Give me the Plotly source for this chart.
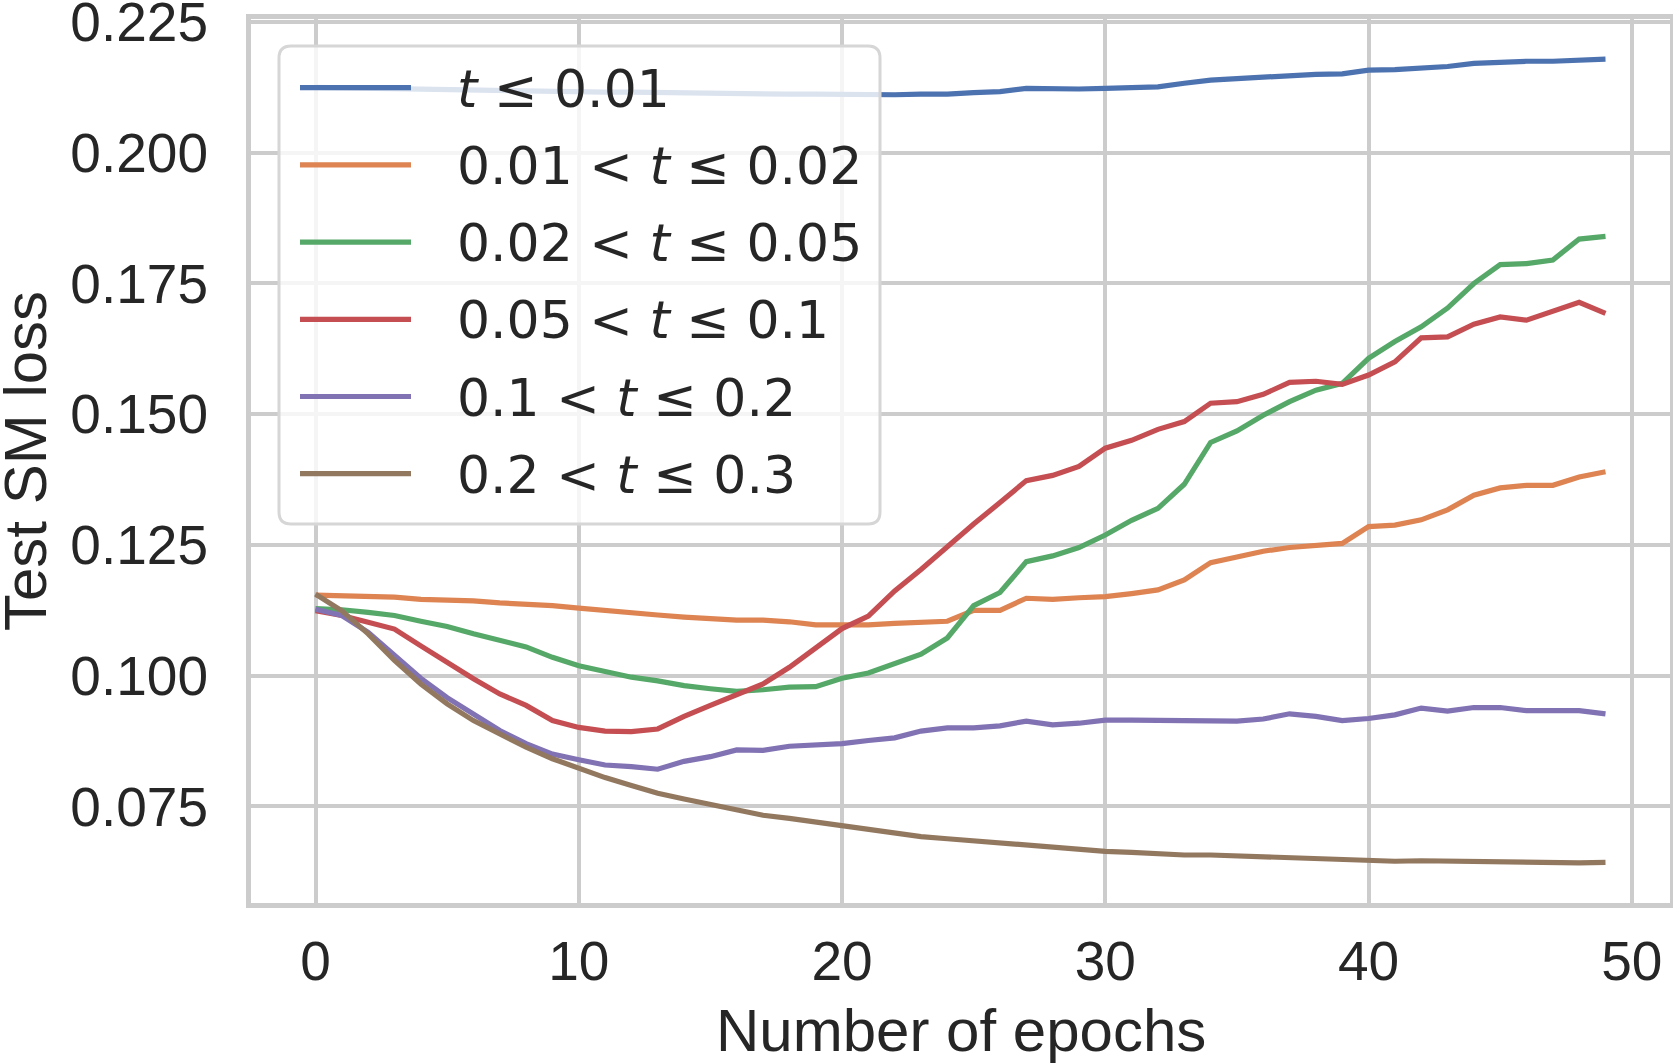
import plotly.graph_objects as go

epochs = list(range(50))

loss_t_001 = [0.2125, 0.2124, 0.2123, 0.2122, 0.2122, 0.2121, 0.2120, 0.2119, 0.2118, 0.2118,
              0.2117, 0.2116, 0.2116, 0.2115, 0.2114, 0.2114, 0.2113, 0.2113, 0.2112, 0.2112,
              0.2111, 0.2111, 0.2111, 0.2112, 0.2112, 0.2115, 0.2117, 0.2123, 0.2122, 0.2122,
              0.2123, 0.2124, 0.2126, 0.2133, 0.2139, 0.2142, 0.2145, 0.2148, 0.2150, 0.2151,
              0.2158, 0.2159, 0.2161, 0.2165, 0.2171, 0.2174, 0.2175, 0.2175, 0.2177, 0.2179]
loss_t_002 = [0.1154, 0.1153, 0.1152, 0.1150, 0.1146, 0.1145, 0.1143, 0.1139, 0.1137, 0.1134,
              0.1129, 0.1124, 0.1120, 0.1116, 0.1112, 0.1108, 0.1106, 0.1106, 0.1103, 0.1097,
              0.1097, 0.1097, 0.1100, 0.1102, 0.1104, 0.1125, 0.1125, 0.1148, 0.1146, 0.1149,
              0.1151, 0.1157, 0.1164, 0.1183, 0.1216, 0.1227, 0.1238, 0.1245, 0.1250, 0.1253,
              0.1285, 0.1288, 0.1298, 0.1317, 0.1345, 0.1359, 0.1364, 0.1364, 0.1380, 0.1390]
loss_t_005 = [0.1128, 0.1126, 0.1121, 0.1115, 0.1104, 0.1094, 0.1080, 0.1068, 0.1055, 0.1035,
              0.1019, 0.1008, 0.0997, 0.0990, 0.0981, 0.0975, 0.0970, 0.0973, 0.0978, 0.0979,
              0.0995, 0.1005, 0.1022, 0.1041, 0.1072, 0.1134, 0.1159, 0.1218, 0.1229, 0.1245,
              0.1269, 0.1297, 0.1320, 0.1366, 0.1446, 0.1468, 0.1498, 0.1524, 0.1546, 0.1559,
              0.1607, 0.1639, 0.1667, 0.1703, 0.1750, 0.1786, 0.1788, 0.1795, 0.1835, 0.1840]
loss_t_01 = [0.1124, 0.1115, 0.1102, 0.1089, 0.1057, 0.1025, 0.0994, 0.0965, 0.0943, 0.0914,
             0.0901, 0.0894, 0.0893, 0.0898, 0.0922, 0.0943, 0.0964, 0.0984, 0.1016, 0.1052,
             0.1090, 0.1114, 0.1162, 0.1203, 0.1248, 0.1290, 0.1331, 0.1373, 0.1383, 0.1400,
             0.1435, 0.1450, 0.1471, 0.1486, 0.1521, 0.1524, 0.1538, 0.1561, 0.1563, 0.1557,
             0.1575, 0.1600, 0.1646, 0.1648, 0.1672, 0.1686, 0.1680, 0.1696, 0.1714, 0.1693]
loss_t_02 = [0.1127, 0.1115, 0.1083, 0.1040, 0.0995, 0.0958, 0.0926, 0.0895, 0.0870, 0.0850,
             0.0839, 0.0829, 0.0826, 0.0821, 0.0836, 0.0845, 0.0858, 0.0857, 0.0865, 0.0867,
             0.0870, 0.0876, 0.0881, 0.0894, 0.0900, 0.0900, 0.0904, 0.0913, 0.0906, 0.0909,
             0.0915, 0.0915, 0.0915, 0.0914, 0.0914, 0.0913, 0.0917, 0.0927, 0.0922, 0.0914,
             0.0918, 0.0925, 0.0938, 0.0932, 0.0939, 0.0939, 0.0933, 0.0934, 0.0933, 0.0927]
loss_t_03 = [0.1156, 0.1124, 0.1080, 0.1029, 0.0984, 0.0946, 0.0914, 0.0889, 0.0863, 0.0841,
             0.0822, 0.0805, 0.0790, 0.0775, 0.0764, 0.0754, 0.0744, 0.0733, 0.0727, 0.0720,
             0.0711, 0.0706, 0.0698, 0.0692, 0.0688, 0.0684, 0.0678, 0.0676, 0.0671, 0.0668,
             0.0664, 0.0662, 0.0659, 0.0657, 0.0657, 0.0655, 0.0653, 0.0651, 0.0649, 0.0648,
             0.0645, 0.0645, 0.0646, 0.0645, 0.0645, 0.0643, 0.0643, 0.0642, 0.0642, 0.0643]

series_names = ["<i>t</i> ≤ 0.01", "0.01 &lt; <i>t</i> ≤ 0.02", "0.02 &lt; <i>t</i> ≤ 0.05",
                "0.05 &lt; <i>t</i> ≤ 0.1", "0.1 &lt; <i>t</i> ≤ 0.2", "0.2 &lt; <i>t</i> ≤ 0.3"]
series_values = [loss_t_001, loss_t_002, loss_t_005, loss_t_01, loss_t_02, loss_t_03]
colors = ["#4C72B0", "#DD8452", "#55A868", "#C44E52", "#8172B3", "#937860"]

x_ticks = [0, 10, 20, 30, 40, 50]
y_ticks = [0.075, 0.100, 0.125, 0.150, 0.175, 0.200, 0.225]
x_title = "Number of epochs"
y_title = "Test SM loss"

W, H = 1673, 1063
L, R, T, B = 251, 1670, 19, 903
PW, PH = R - L, B - T

fig = go.Figure()
for name, vals, col in zip(series_names, series_values, colors):
    fig.add_trace(go.Scatter(x=epochs, y=vals, mode="lines", name=name,
                             line=dict(color=col, width=5.2), showlegend=False))

allv = [v for s in series_values for v in s]
ymin, ymax = min(allv), max(allv)
pad = 0.05 * (ymax - ymin)
xpad = 0.05 * (max(epochs) - min(epochs))


def px2x(px):
    return (px - L) / PW


def py2y(py):
    return (B - py) / PH


# legend frame (rounded, semi-transparent)
lx0, lx1, ly0, ly1, rad = 279, 880, 46, 524, 12
path = (f"M {px2x(lx0+rad)},{py2y(ly0)} L {px2x(lx1-rad)},{py2y(ly0)} "
        f"Q {px2x(lx1)},{py2y(ly0)} {px2x(lx1)},{py2y(ly0+rad)} "
        f"L {px2x(lx1)},{py2y(ly1-rad)} Q {px2x(lx1)},{py2y(ly1)} {px2x(lx1-rad)},{py2y(ly1)} "
        f"L {px2x(lx0+rad)},{py2y(ly1)} Q {px2x(lx0)},{py2y(ly1)} {px2x(lx0)},{py2y(ly1-rad)} "
        f"L {px2x(lx0)},{py2y(ly0+rad)} Q {px2x(lx0)},{py2y(ly0)} {px2x(lx0+rad)},{py2y(ly0)} Z")
fig.add_shape(type="path", path=path, xref="paper", yref="paper", layer="above",
              fillcolor="rgba(255,255,255,0.8)", line=dict(color="#d6d6d6", width=3))

row0, rowstep = 87.7, 77.2
for k, (name, col) in enumerate(zip(series_names, colors)):
    ry = row0 + k * rowstep
    fig.add_shape(type="line", xref="paper", yref="paper", layer="above",
                  x0=px2x(300), x1=px2x(411), y0=py2y(ry), y1=py2y(ry),
                  line=dict(color=col, width=5.2))
    fig.add_annotation(x=px2x(455), y=py2y(ry + 1), xref="paper", yref="paper",
                       text=name, showarrow=False, xanchor="left", yanchor="middle",
                       font=dict(family="DejaVu Sans", size=52, color="#262626"))

axis_font = dict(family="Liberation Sans, Arial", size=55, color="#262626")
title_font = dict(family="Liberation Sans, Arial", size=60, color="#262626")

# axis titles
fig.add_annotation(x=0.5, y=py2y(1030), xref="paper", yref="paper", text=x_title,
                   showarrow=False, xanchor="center", yanchor="middle", font=title_font)
fig.add_annotation(x=px2x(25), y=py2y(461), xref="paper", yref="paper", text=y_title,
                   showarrow=False, xanchor="center", yanchor="middle", textangle=-90,
                   font=title_font)

fig.update_layout(
    width=W, height=H,
    margin=dict(l=L, r=W - R, t=T, b=H - B, pad=0),
    paper_bgcolor="white", plot_bgcolor="white",
    showlegend=False,
    xaxis=dict(range=[min(epochs) - xpad, max(epochs) + xpad], tickvals=x_ticks,
               showgrid=True, gridcolor="#cccccc", gridwidth=3.5, zeroline=False,
               showline=True, mirror=True, linecolor="#cccccc", linewidth=5,
               ticks="outside", ticklen=6, tickcolor="rgba(0,0,0,0)",
               tickfont=axis_font, automargin=False, ticklabeloverflow="allow"),
    yaxis=dict(range=[ymin - pad, ymax + pad], tickvals=y_ticks, tickformat=".3f",
               showgrid=True, gridcolor="#cccccc", gridwidth=3.5, zeroline=False,
               showline=True, mirror=True, linecolor="#cccccc", linewidth=5,
               ticks="outside", ticklen=27, tickcolor="rgba(0,0,0,0)",
               tickfont=axis_font, automargin=False, ticklabeloverflow="allow"),
)

fig.write_html("out.html")
